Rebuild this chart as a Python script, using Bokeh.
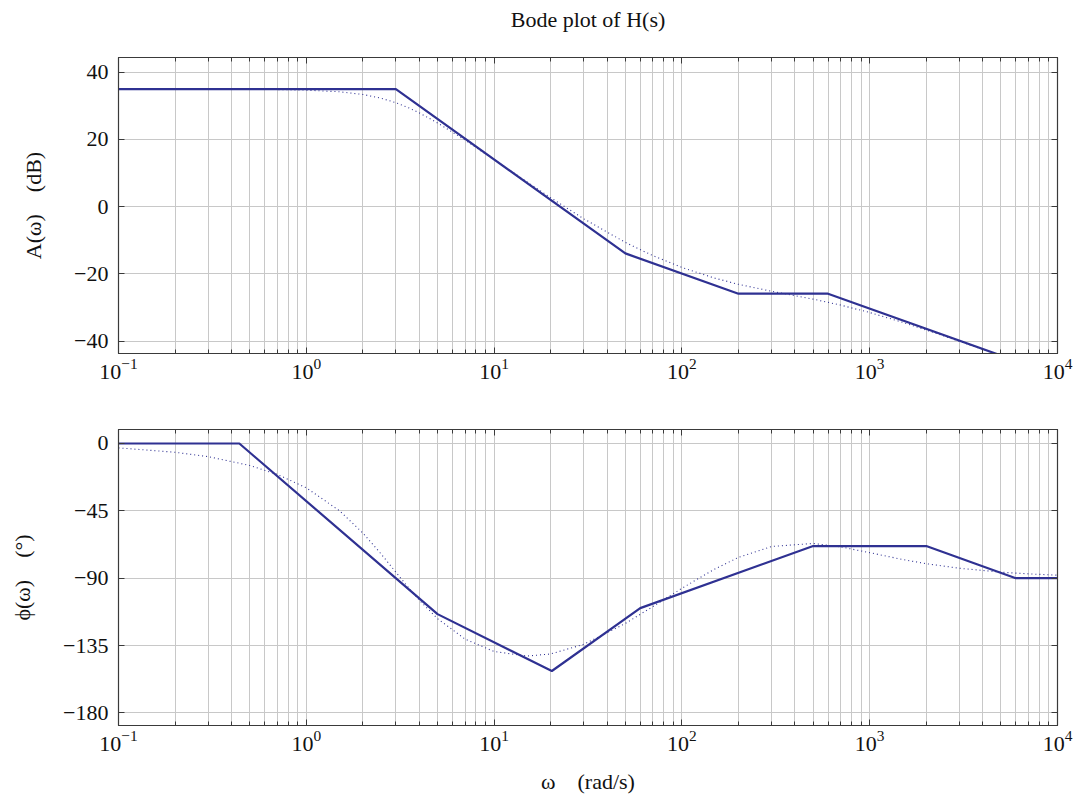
from bokeh.plotting import figure
from bokeh.layouts import column
from bokeh.models import FixedTicker, LogAxis, LinearAxis, Range1d
from bokeh.embed import file_html
from bokeh.resources import INLINE

# ---- data ----
w_asym_mag = [0.1, 3, 50, 200, 600, 10000]
a_asym = [35.0, 35.0, -13.9, -25.9, -25.9, -50.3]

w_asym_ph = [0.1, 0.44, 5, 20.3, 60, 500, 2000, 6000, 10000]
phi_asym = [0, 0, -114, -152, -110, -68.5, -68.5, -90, -90]

w_true = [0.1, 0.2, 0.3, 0.5, 0.7, 1, 1.5, 2, 2.5, 3, 3.5, 4, 5, 7, 10, 15, 20, 30,
          50, 70, 100, 150, 200, 300, 500, 700, 1000, 1500, 2000, 3000, 5000, 7000, 10000]
a_true = [35.0, 35.0, 34.98, 34.93, 34.86, 34.69, 34.2, 33.4, 32.29, 30.94, 29.44, 27.91,
          24.92, 19.82, 14.02, 7.34, 2.67, -3.6, -10.64, -14.56, -18.08, -21.29, -23.11,
          -25.17, -27.52, -29.29, -31.51, -34.43, -36.71, -40.05, -44.38, -47.28, -50.37]
phi_true = [-2.92, -5.85, -8.78, -14.67, -20.61, -29.62, -44.85, -59.82, -73.75, -85.99,
            -96.28, -104.7, -117.02, -130.66, -138.97, -142.01, -140.6, -134.19, -120.22,
            -108.97, -96.71, -83.77, -76.09, -68.8, -66.77, -69.05, -72.93, -77.52, -80.3,
            -83.36, -85.97, -87.11, -87.98]

x_major = [0.1, 1, 10, 100, 1000, 10000]
x_minor = [m * d for d in [0.1, 1, 10, 100, 1000] for m in range(2, 10)]
a_ticks = [-40, -20, 0, 20, 40]
a_labels = ["−40", "−20", "0", "20", "40"]
phi_ticks = [-180, -135, -90, -45, 0]
phi_labels = ["−180", "−135", "−90", "−45", "0"]

title_text = "Bode plot of H(s)"
a_label = "A(ω)\u2003(dB)"
phi_label = "ϕ(ω)\u2003(°)"
x_label = "ω\u2003(rad/s)"

LINE = "#2f3192"
GRID = "#c8c8c8"
FRAME = "#3a3a3a"
TXT = "#111111"
FONT = "Liberation Serif"
FS = "22px"


def make(height, yr, yticks, ylabels, ylabel, b_top, b_bottom):
    p = figure(width=1079, height=height, x_axis_type="log",
               x_range=Range1d(0.1, 10000), y_range=Range1d(*yr),
               output_backend="svg", toolbar_location=None,
               min_border_left=118, min_border_right=22,
               min_border_top=b_top, min_border_bottom=b_bottom)
    xt = FixedTicker(ticks=x_major, minor_ticks=x_minor)
    yt = FixedTicker(ticks=yticks)
    p.xaxis.ticker = xt
    p.yaxis.ticker = yt
    p.xgrid.ticker = xt
    p.ygrid.ticker = yt
    p.xgrid.grid_line_color = GRID
    p.xgrid.minor_grid_line_color = GRID
    p.ygrid.grid_line_color = GRID
    p.outline_line_color = FRAME
    p.outline_line_width = 1.2
    p.yaxis.major_label_overrides = {t: l for t, l in zip(yticks, ylabels)}
    for ax in [p.xaxis[0], p.yaxis[0]]:
        ax.axis_line_color = FRAME
        ax.major_tick_in = 6
        ax.major_tick_out = 0
        ax.major_tick_line_color = FRAME
        ax.major_label_text_font = FONT
        ax.major_label_text_font_size = FS
        ax.major_label_text_color = TXT
        ax.axis_label_text_font = FONT
        ax.axis_label_text_font_size = FS
        ax.axis_label_text_font_style = "normal"
        ax.axis_label_text_color = TXT
    p.xaxis.minor_tick_in = 4
    p.xaxis.minor_tick_out = 0
    p.xaxis.minor_tick_line_color = FRAME
    p.yaxis.minor_tick_line_color = None
    p.xaxis.major_label_standoff = 5
    p.yaxis.major_label_standoff = 10
    p.yaxis.axis_label = ylabel
    p.yaxis.axis_label_standoff = 25

    top = LogAxis(ticker=xt, major_tick_in=6, major_tick_out=0, minor_tick_in=4,
                  minor_tick_out=0, major_label_text_font_size="1px",
                  major_label_text_alpha=0,
                  axis_line_color=FRAME, major_tick_line_color=FRAME,
                  minor_tick_line_color=FRAME, major_label_standoff=0,
                  axis_label_text_font=FONT, axis_label_text_font_size=FS,
                  axis_label_text_font_style="normal", axis_label_text_color=TXT)
    right = LinearAxis(ticker=yt, major_tick_in=6, major_tick_out=0, minor_tick_line_color=None,
                       major_label_text_font_size="1px", major_label_text_alpha=0,
                       axis_line_color=FRAME,
                       major_tick_line_color=FRAME, major_label_standoff=0)
    p.add_layout(top, "above")
    p.add_layout(right, "right")
    return p, top


p1, top1 = make(390, (-43.7, 44.4), a_ticks, a_labels, a_label, 57, 37)
p1.line(w_true, a_true, line_color=LINE, line_width=1.1, line_dash="1 3")
p1.line(w_asym_mag, a_asym, line_color=LINE, line_width=2.2)
top1.axis_label = title_text
top1.axis_label_standoff = 26

p2, _ = make(411, (-188.4, 9.35), phi_ticks, phi_labels, phi_label, 39, 76)
p2.line(w_true, phi_true, line_color=LINE, line_width=1.1, line_dash="1 3")
p2.line(w_asym_ph, phi_asym, line_color=LINE, line_width=2.2)
bottom_axis = p2.below[0]
bottom_axis.axis_label = x_label
bottom_axis.axis_label_standoff = 15

layout = column(p1, p2, spacing=0)
open("out.html", "w").write(file_html(layout, INLINE))
